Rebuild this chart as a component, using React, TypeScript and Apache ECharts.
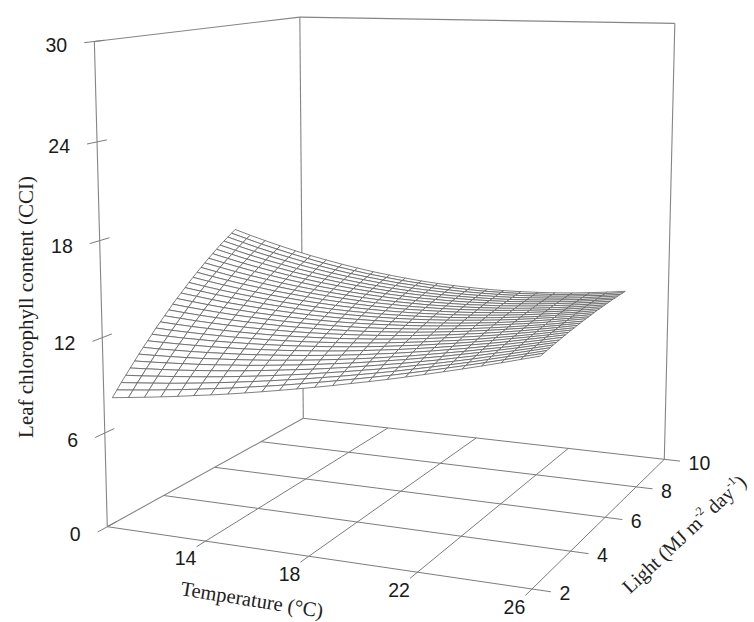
import React, { useEffect, useRef } from "react";
import * as echarts from "echarts";

// Ticks
const temperatureTicks = [14, 18, 22, 26];
const lightTicks = [2, 4, 6, 8, 10];
const cciTicks = [0, 6, 12, 18, 24, 30];

// Mesh nodes of the surface
const meshTemperature = [10, 10.67, 11.33, 12, 12.67, 13.33, 14, 14.67, 15.33, 16, 16.67, 17.33, 18, 18.67, 19.33, 20, 20.67, 21.33, 22, 22.67, 23.33, 24, 24.67, 25.33, 26];
const meshLight = [2.28, 2.44, 2.59, 2.75, 2.91, 3.07, 3.22, 3.38, 3.54, 3.7, 3.85, 4.01, 4.17, 4.33, 4.48, 4.64, 4.8, 4.96, 5.11, 5.27, 5.43, 5.59, 5.74, 5.9, 6.06, 6.22, 6.37, 6.53, 6.69, 6.85, 7];
const meshCCI = [
  [8.00,8.13,8.26,8.40,8.55,8.71,8.87,9.04,9.22,9.41,9.61,9.81,10.02,10.24,10.47,10.70,10.94,11.19,11.45,11.72,11.99,12.27,12.56,12.86,13.16],
  [8.36,8.47,8.58,8.71,8.84,8.98,9.13,9.28,9.45,9.62,9.80,9.99,10.19,10.40,10.61,10.83,11.06,11.30,11.55,11.81,12.07,12.34,12.62,12.91,13.20],
  [8.71,8.80,8.90,9.00,9.12,9.24,9.38,9.52,9.67,9.83,10.00,10.17,10.36,10.55,10.75,10.96,11.18,11.41,11.65,11.89,12.14,12.41,12.68,12.95,13.24],
  [9.05,9.12,9.21,9.30,9.40,9.50,9.62,9.75,9.88,10.03,10.18,10.34,10.52,10.70,10.89,11.08,11.29,11.51,11.73,11.97,12.21,12.47,12.73,13.00,13.28],
  [9.39,9.45,9.51,9.58,9.67,9.76,9.86,9.97,10.10,10.23,10.37,10.51,10.67,10.84,11.02,11.21,11.40,11.61,11.82,12.05,12.28,12.53,12.78,13.04,13.32],
  [9.72,9.76,9.81,9.87,9.93,10.01,10.10,10.19,10.30,10.42,10.54,10.68,10.83,10.98,11.15,11.33,11.51,11.71,11.91,12.13,12.35,12.59,12.83,13.09,13.35],
  [10.05,10.07,10.10,10.14,10.19,10.26,10.33,10.41,10.50,10.61,10.72,10.84,10.98,11.12,11.27,11.44,11.61,11.80,12.00,12.20,12.42,12.64,12.88,13.13,13.38],
  [10.37,10.37,10.39,10.41,10.45,10.50,10.55,10.62,10.70,10.79,10.89,11.00,11.12,11.25,11.40,11.55,11.72,11.89,12.08,12.27,12.48,12.70,12.93,13.17,13.42],
  [10.68,10.67,10.67,10.68,10.70,10.73,10.77,10.83,10.89,10.97,11.06,11.15,11.26,11.39,11.52,11.66,11.82,11.98,12.16,12.35,12.54,12.75,12.98,13.21,13.45],
  [10.99,10.96,10.94,10.94,10.94,10.96,10.99,11.03,11.08,11.14,11.22,11.30,11.40,11.51,11.63,11.77,11.91,12.07,12.23,12.41,12.60,12.81,13.02,13.24,13.48],
  [11.29,11.24,11.21,11.19,11.18,11.18,11.20,11.22,11.26,11.31,11.37,11.45,11.53,11.63,11.74,11.87,12.00,12.15,12.30,12.47,12.66,12.85,13.06,13.28,13.51],
  [11.58,11.52,11.47,11.44,11.41,11.40,11.40,11.41,11.44,11.48,11.53,11.59,11.67,11.75,11.85,11.96,12.09,12.23,12.38,12.54,12.71,12.90,13.10,13.31,13.53],
  [11.87,11.80,11.73,11.68,11.64,11.61,11.60,11.60,11.61,11.64,11.68,11.73,11.79,11.87,11.96,12.06,12.18,12.30,12.45,12.60,12.77,12.94,13.14,13.34,13.56],
  [12.15,12.06,11.98,11.92,11.86,11.82,11.80,11.78,11.78,11.80,11.82,11.86,11.91,11.98,12.06,12.15,12.26,12.38,12.51,12.66,12.82,12.99,13.17,13.37,13.58],
  [12.43,12.32,12.23,12.15,12.08,12.03,11.99,11.96,11.95,11.95,11.96,11.99,12.03,12.09,12.16,12.24,12.34,12.45,12.57,12.71,12.86,13.03,13.20,13.40,13.60],
  [12.70,12.58,12.47,12.37,12.29,12.22,12.17,12.13,12.11,12.10,12.10,12.12,12.15,12.20,12.26,12.33,12.42,12.52,12.64,12.77,12.91,13.07,13.24,13.43,13.63],
  [12.96,12.83,12.70,12.59,12.50,12.42,12.35,12.30,12.26,12.24,12.23,12.24,12.26,12.29,12.34,12.41,12.49,12.58,12.69,12.81,12.95,13.10,13.27,13.45,13.64],
  [13.22,13.07,12.93,12.81,12.70,12.60,12.52,12.46,12.41,12.38,12.36,12.36,12.37,12.39,12.43,12.49,12.56,12.65,12.75,12.86,12.99,13.14,13.30,13.47,13.66],
  [13.47,13.30,13.15,13.01,12.89,12.79,12.69,12.62,12.56,12.51,12.48,12.47,12.47,12.49,12.52,12.57,12.63,12.71,12.80,12.91,13.03,13.17,13.33,13.50,13.68],
  [13.72,13.53,13.37,13.22,13.08,12.96,12.86,12.77,12.70,12.64,12.60,12.58,12.57,12.58,12.60,12.64,12.69,12.76,12.85,12.95,13.07,13.20,13.35,13.51,13.70],
  [13.96,13.76,13.58,13.41,13.27,13.13,13.02,12.92,12.83,12.77,12.72,12.68,12.66,12.66,12.68,12.71,12.75,12.82,12.90,12.99,13.10,13.23,13.37,13.53,13.71],
  [14.19,13.98,13.78,13.61,13.44,13.30,13.17,13.06,12.97,12.89,12.83,12.78,12.76,12.74,12.75,12.77,12.81,12.87,12.94,13.03,13.13,13.25,13.39,13.55,13.72],
  [14.41,14.19,13.98,13.79,13.62,13.46,13.32,13.20,13.10,13.01,12.94,12.88,12.85,12.83,12.82,12.84,12.87,12.92,12.98,13.06,13.16,13.28,13.41,13.57,13.73],
  [14.63,14.40,14.18,13.97,13.79,13.62,13.47,13.33,13.22,13.12,13.04,12.98,12.93,12.90,12.89,12.90,12.92,12.97,13.02,13.10,13.19,13.31,13.43,13.58,13.74],
  [14.85,14.60,14.36,14.15,13.95,13.77,13.61,13.46,13.34,13.23,13.14,13.07,13.01,12.97,12.96,12.95,12.97,13.01,13.06,13.13,13.22,13.33,13.45,13.59,13.75],
  [15.06,14.79,14.54,14.32,14.11,13.91,13.74,13.59,13.45,13.33,13.23,13.15,13.09,13.04,13.02,13.01,13.02,13.05,13.09,13.16,13.24,13.34,13.46,13.60,13.76],
  [15.26,14.98,14.72,14.48,14.26,14.05,13.87,13.70,13.56,13.43,13.32,13.23,13.16,13.11,13.07,13.06,13.06,13.08,13.12,13.18,13.26,13.36,13.47,13.61,13.76],
  [15.45,15.16,14.89,14.64,14.41,14.19,14.00,13.82,13.66,13.53,13.41,13.31,13.23,13.17,13.13,13.10,13.10,13.12,13.15,13.21,13.28,13.37,13.48,13.62,13.77],
  [15.64,15.34,15.05,14.79,14.55,14.32,14.12,13.93,13.76,13.62,13.49,13.38,13.30,13.23,13.18,13.15,13.14,13.15,13.18,13.23,13.30,13.39,13.50,13.62,13.77],
  [15.82,15.51,15.21,14.94,14.68,14.45,14.23,14.03,13.86,13.70,13.57,13.45,13.36,13.28,13.23,13.19,13.17,13.18,13.20,13.25,13.31,13.40,13.50,13.63,13.77],
  [16.00,15.67,15.37,15.08,14.81,14.56,14.34,14.13,13.95,13.78,13.64,13.52,13.41,13.33,13.27,13.23,13.20,13.20,13.22,13.26,13.32,13.40,13.51,13.63,13.77],
];

const T_MIN = 10, T_MAX = 26, L_MIN = 2, L_MAX = 10, Z_MIN = 0, Z_MAX = 30;
const T_OVER = 0.64, L_OVER = 0.32;

// Perspective camera of the 3-D box (homogeneous 3x4 projection)
function project(T: number, L: number, Z: number): number[] {
  const u = (T - T_MIN) / (T_MAX - T_MIN);
  const v = (L - L_MIN) / (L_MAX - L_MIN);
  const w = (Z - Z_MIN) / (Z_MAX - Z_MIN);
  const W = -0.09719 * u + 0.21207 * v - 0.0425 * w + 1;
  return [
    (373.0 * u + 260.32 * v - 16.95 * w + 107.3) / W,
    (5.06 * u - 19.69 * v - 487 * w + 526.7) / W,
  ];
}

const boxEdges: number[][] = [
  [T_MIN, L_MIN, Z_MIN, T_MIN, L_MIN, Z_MAX],
  [T_MIN, L_MAX, Z_MIN, T_MIN, L_MAX, Z_MAX],
  [T_MAX, L_MAX, Z_MIN, T_MAX, L_MAX, Z_MAX],
  [T_MIN, L_MIN, Z_MAX, T_MIN, L_MAX, Z_MAX],
  [T_MIN, L_MAX, Z_MAX, T_MAX, L_MAX, Z_MAX],
  [T_MIN, L_MIN, Z_MIN, T_MIN, L_MAX, Z_MIN],
];
const floorLines: number[][] = [
  ...temperatureTicks.map((t) => [t, L_MIN - L_OVER, Z_MIN, t, L_MAX, Z_MIN]),
  ...lightTicks.map((l) => [T_MIN, l, Z_MIN, T_MAX + T_OVER, l, Z_MIN]),
];
const cciTickLines: number[][] = cciTicks.map((z) => [T_MIN, L_MIN - L_OVER, z, T_MIN, L_MIN + L_OVER, z]);

const quads: number[][] = [];
for (let i = meshLight.length - 2; i >= 0; i--) {
  for (let j = 0; j < meshTemperature.length - 1; j++) {
    quads.push([
      meshTemperature[j], meshTemperature[j + 1], meshLight[i], meshLight[i + 1],
      meshCCI[i][j], meshCCI[i][j + 1], meshCCI[i + 1][j + 1], meshCCI[i + 1][j],
    ]);
  }
}

// kind: 0 temperature, 1 light, 2 CCI
const tickLabels: number[][] = [
  ...temperatureTicks.map((t) => [t, L_MIN - L_OVER, Z_MIN, t, 0]),
  ...lightTicks.map((l) => [T_MAX + T_OVER, l, Z_MIN, l, 1]),
  ...cciTicks.map((z) => [T_MIN, L_MIN - L_OVER, z, z, 2]),
];

const SANS = "'Liberation Sans', Arial, sans-serif";
const SERIF = "'Liberation Serif', 'Times New Roman', serif";

export default function App() {
  const ref = useRef<HTMLDivElement>(null);
  useEffect(() => {
    document.body.style.margin = "0";
    const chart = echarts.init(ref.current!, null, { renderer: "svg" });

    const segment = (color: string, width: number) => (_p: any, api: any) => {
      const a = api.coord(project(api.value(0), api.value(1), api.value(2)));
      const b = api.coord(project(api.value(3), api.value(4), api.value(5)));
      return {
        type: "line",
        shape: { x1: a[0], y1: a[1], x2: b[0], y2: b[1] },
        style: { stroke: color, lineWidth: width, fill: "none" },
      };
    };

    chart.setOption({
      animation: false,
      backgroundColor: "#ffffff",
      grid: { left: 0, top: 0, width: 754, height: 622, containLabel: false, show: false },
      xAxis: { type: "value", min: 0, max: 754, show: false },
      yAxis: { type: "value", min: 0, max: 622, inverse: true, show: false },
      tooltip: { show: false },
      graphic: [
        {
          type: "text", x: 26, y: 307, rotation: Math.PI / 2,
          style: { text: "Leaf chlorophyll content (CCI)", fontFamily: SERIF, fontSize: 21, fill: "#222", align: "center", verticalAlign: "middle" },
        },
        {
          type: "text", x: 252, y: 599.5, rotation: -0.16,
          style: { text: "Temperature (°C)", fontFamily: SERIF, fontSize: 20.5, fill: "#222", align: "center", verticalAlign: "middle" },
        },
        {
          type: "text", x: 684, y: 534, rotation: 0.757,
          style: {
            text: "{a|Light (MJ m}{s|-2}{a| day}{s|-1}{a|)}",
            align: "center", verticalAlign: "middle",
            rich: {
              a: { fontFamily: SERIF, fontSize: 20, fill: "#222", lineHeight: 24 },
              s: { fontFamily: SERIF, fontSize: 12, fill: "#222", lineHeight: 24, verticalAlign: "top" },
            },
          },
        },
      ],
      series: [
        { type: "custom", silent: true, clip: false, progressive: 0, coordinateSystem: "cartesian2d", encode: { x: 0, y: 1 }, data: boxEdges, renderItem: segment("#858585", 1.1), z: 1 },
        { type: "custom", silent: true, clip: false, progressive: 0, coordinateSystem: "cartesian2d", encode: { x: 0, y: 1 }, data: floorLines, renderItem: segment("#7c7c7c", 1), z: 1 },
        { type: "custom", silent: true, clip: false, progressive: 0, coordinateSystem: "cartesian2d", encode: { x: 0, y: 1 }, data: cciTickLines, renderItem: segment("#7c7c7c", 1), z: 1 },
        {
          type: "custom", silent: true, clip: false, progressive: 0, coordinateSystem: "cartesian2d", encode: { x: 0, y: 1 }, data: quads, z: 2,
          renderItem: (_p: any, api: any) => {
            const t0 = api.value(0), t1 = api.value(1), l0 = api.value(2), l1 = api.value(3);
            const pts = [
              project(t0, l0, api.value(4)),
              project(t1, l0, api.value(5)),
              project(t1, l1, api.value(6)),
              project(t0, l1, api.value(7)),
            ].map((p) => api.coord(p));
            return {
              type: "polygon",
              shape: { points: pts },
              style: { fill: "#ffffff", stroke: "#606060", lineWidth: 0.8 },
            };
          },
        },
        {
          type: "custom", silent: true, clip: false, progressive: 0, coordinateSystem: "cartesian2d", encode: { x: 0, y: 1 }, data: tickLabels, z: 3,
          renderItem: (_p: any, api: any) => {
            const kind = api.value(4);
            const c = api.coord(project(api.value(0), api.value(1), api.value(2)));
            const off = kind === 0 ? [-11, 11.5] : kind === 1 ? [8.5, 1.7] : [-17, 2];
            return {
              type: "text",
              x: c[0] + off[0],
              y: c[1] + off[1],
              style: {
                text: String(api.value(3)),
                fontFamily: SANS,
                fontSize: 19.5,
                fill: "#1a1a1a",
                align: kind === 0 ? "center" : kind === 1 ? "left" : "right",
                verticalAlign: "middle",
              },
            };
          },
        },
      ],
    });
    return () => chart.dispose();
  }, []);
  return <div ref={ref} style={{ width: 754, height: 622, display: "block", overflow: "hidden" }} />;
}
